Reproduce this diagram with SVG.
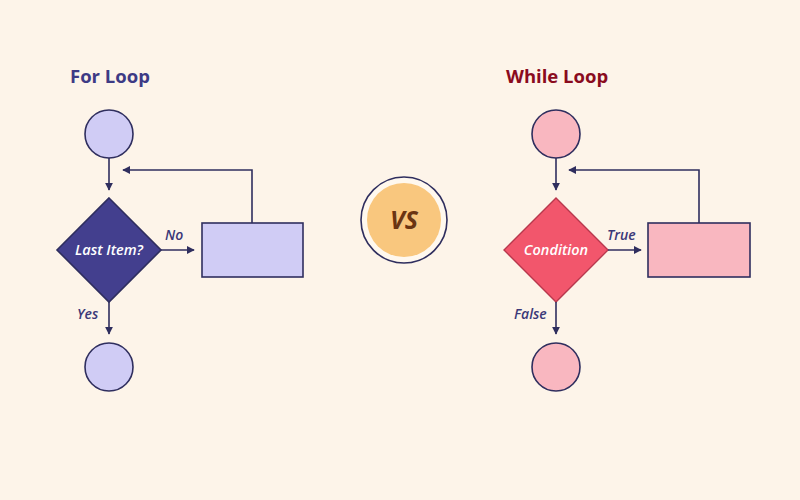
<svg xmlns="http://www.w3.org/2000/svg" width="800" height="500" viewBox="0 0 800 500">
<defs>
<marker id="arr" viewBox="0 0 10 10" refX="9" refY="5" markerWidth="8" markerHeight="8" markerUnits="userSpaceOnUse" orient="auto">
<path d="M0,0 L10,5 L0,10 z" fill="#2F2E5E"/>
</marker>
<style>
.title{font-family:"Open Sans","Noto Sans",sans-serif;font-weight:700;font-size:18.5px}
.lbl{font-family:"Open Sans","Noto Sans",sans-serif;font-weight:600;font-style:italic;font-size:14px;fill:#3B3878}
.dtext{font-family:"Open Sans","Noto Sans",sans-serif;font-weight:600;font-style:italic;font-size:14.5px;fill:#FFFFFF;text-anchor:middle}
.edge{fill:none;stroke:#2F2E5E;stroke-width:1.6}
.lc{fill:#D0CCF5;stroke:#2F2E5E;stroke-width:1.6}
.rc{fill:#F9B7C0;stroke:#2F2E5E;stroke-width:1.6}
</style>
</defs>
<rect width="800" height="500" fill="#FDF4E9"/>

<text class="title" x="70" y="83" fill="#3D3A85">For Loop</text>
<text class="title" x="506" y="83" fill="#8A0B1E">While Loop</text>

<g id="for-start"><circle class="lc" cx="109" cy="134" r="24"/></g>
<g id="for-cond"><polygon points="109,198 161,250 109,302 57,250" fill="#433F8E" stroke="#2F2E5E" stroke-width="1.6"/><text class="dtext" x="109" y="255">Last Item?</text></g>
<g id="for-body"><rect class="lc" x="202" y="223" width="101" height="54"/></g>
<g id="for-end"><circle class="lc" cx="109" cy="367" r="24"/></g>

<g id="vs"><circle cx="404" cy="220" r="43" fill="#FFF8EE" stroke="#2F2E5E" stroke-width="1.6"/><circle cx="404" cy="220" r="37" fill="#F9C77E"/><text x="404" y="229" text-anchor="middle" font-family="'Open Sans','Noto Sans',sans-serif" font-weight="700" font-style="italic" font-size="25" fill="#6B3512">VS</text></g>

<g id="while-start"><circle class="rc" cx="556" cy="134" r="24"/></g>
<g id="while-cond"><polygon points="556,198 608,250 556,302 504,250" fill="#F2566C" stroke="#B8384D" stroke-width="1.4"/><text class="dtext" x="556" y="255">Condition</text></g>
<g id="while-body"><rect class="rc" x="648" y="223" width="102" height="54"/></g>
<g id="while-end"><circle class="rc" cx="556" cy="367" r="24"/></g>

<g id="connectors">
<line class="edge" x1="109" y1="158" x2="109" y2="190" marker-end="url(#arr)"/>
<line class="edge" x1="161" y1="250" x2="194" y2="250" marker-end="url(#arr)"/>
<polyline class="edge" points="252,223 252,170 123,170" marker-end="url(#arr)"/>
<line class="edge" x1="109" y1="302" x2="109" y2="334" marker-end="url(#arr)"/>
<line class="edge" x1="556" y1="158" x2="556" y2="190" marker-end="url(#arr)"/>
<line class="edge" x1="608" y1="250" x2="641" y2="250" marker-end="url(#arr)"/>
<polyline class="edge" points="699,223 699,170 569,170" marker-end="url(#arr)"/>
<line class="edge" x1="556" y1="302" x2="556" y2="334" marker-end="url(#arr)"/>
<text class="lbl" x="165" y="240">No</text>
<text class="lbl" x="77" y="319">Yes</text>
<text class="lbl" x="607" y="240">True</text>
<text class="lbl" x="514" y="319">False</text>
</g>
</svg>
